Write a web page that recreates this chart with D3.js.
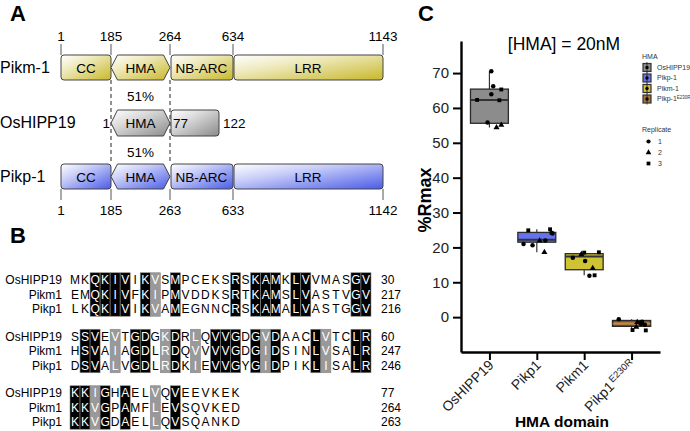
<!DOCTYPE html>
<html>
<head>
<meta charset="utf-8">
<script src="https://cdn.jsdelivr.net/npm/d3@7"></script>
<style>
  body { margin: 0; background: #fff; }
  svg { display: block; font-family: "Liberation Sans", Arial, sans-serif; }
</style>
</head>
<body>
<script>
const WIDTH = 690;
const HEIGHT = 431;

// ---------- panel A: domain schematic
const domainNames = ["CC", "HMA", "NB-ARC", "LRR"];
const pikmBounds = [1, 185, 264, 634, 1143];
const pikpBounds = [1, 185, 263, 633, 1142];
const hippBounds = [1, 77, 122];
const identityLabels = ["51%", "51%"];

// ---------- panel B: alignment
const seqNames = ["OsHIPP19", "Pikm1", "Pikp1"];
const seqBlocks = [
  ["MKQKIVIKVSMPCEKSRSKAMKLVVMASGV", "EMQKIVFKIPMVDDKSRTKAMSLVASTVGV", "LKQKIVIKVAMEGNNCRSKAMALVASTGGV"],
  ["SSVEVTGDGKDRLQVVGDGVDAACLVTCLR", "HSVAIAGDLRDQVVVVGDGIDSINLVSALR", "DSVALVGDLRDKIEVVGYGIDPIKLISALR"],
  ["KKIGHAELVQVEEVKEK", "KKVGPAMFLEVSQVKED", "KKVGDAELLQVSQANKD"]
];
const blockEnds = [[30, 217, 216], [60, 247, 246], [77, 264, 263]];
// b = identical (black), g = similar (grey), . = none
const blockMasks = [
  "..bbbb.bg.b.....b.bbb.bb....bb",
  ".bb.g.bb.gb.g.bbb.bgb...bg..bb",
  "bbgb.b..g.b......"
];

// ---------- panel C: boxplot
const hmaGroups = ["OsHIPP19", "Pikp1", "Pikm1", "Pikp1E230R"];
const boxLow = [54.4, 18.6, 12.0, -3.8];
const boxQ1 = [55.6, 21.5, 13.6, -2.6];
const boxMedian = [62.3, 22.2, 17.4, -1.9];
const boxQ3 = [65.4, 24.3, 18.2, -1.0];
const boxHigh = [70.5, 25.2, 18.6, -0.6];
const pointValues = [
  [70.5, 66.2, 63.9, 65.3, 62.3, 62.2, 55.8, 54.4, 55.1],
  [24.9, 25.2, 24.2, 21.0, 20.6, 22.0, 21.9, 18.6, 24.0],
  [17.0, 18.0, 18.5, 16.1, 18.6, 14.0, 11.9, 12.0],
  [-0.6, -1.3, -1.6, -3.7, -2.8, -2.2, -3.8, -1.5, -2.0]
];
const pointReplicate = [
  [1, 1, 1, 3, 3, 3, 1, 2, 2],
  [3, 3, 3, 1, 1, 1, 2, 2, 1],
  [1, 2, 3, 1, 3, 2, 1, 3],
  [1, 1, 1, 3, 2, 1, 3, 2, 1]
];
const pointJitter = [
  [0.04, 0.08, 0.04, 0.25, -0.26, 0.21, -0.04, 0.15, 0.25],
  [-0.18, 0.28, 0.31, -0.28, -0.09, 0.18, 0.06, 0.16, 0.33],
  [-0.24, -0.06, 0.0, 0.02, 0.31, 0.18, 0.11, 0.22],
  [-0.27, 0.22, 0.18, 0.02, 0.1, 0.28, 0.3, 0.12, 0.2]
];
const groupColors = ["#8c8c8c", "#6673f0", "#cfc233", "#a8743e"];
const legendNames = ["OsHIPP19", "Pikp-1", "Pikm-1", "Pikp-1"];
const replicates = [1, 2, 3];
const yTicks = [0, 10, 20, 30, 40, 50, 60, 70];

const svg = d3.select("body").append("svg")
  .attr("width", WIDTH)
  .attr("height", HEIGHT);

const defs = svg.append("defs");
function gradient(id, color) {
  const g = defs.append("linearGradient").attr("id", id)
    .attr("x1", 0).attr("y1", 0).attr("x2", 1).attr("y2", 1);
  g.append("stop").attr("offset", 0).attr("stop-color", "#ffffff");
  g.append("stop").attr("offset", 0.35).attr("stop-color", d3.interpolateRgb("#ffffff", color)(0.3));
  g.append("stop").attr("offset", 1).attr("stop-color", color);
}
gradient("gYel", "#c8b82a");
gradient("gBlue", "#4a5ce8");
gradient("gGrey", "#8a8a8a");

// panel letters
[["A", 10, 21], ["B", 10, 243], ["C", 418, 21]].forEach(function (l) {
  svg.append("text").attr("x", l[1]).attr("y", l[2])
    .attr("font-size", 22).attr("font-weight", "bold").text(l[0]);
});

// ================= PANEL A =================
const A = svg.append("g");
const pikmX = d3.scaleLinear().domain(pikmBounds).range([61, 111, 170, 233, 383]);
const pikpX = d3.scaleLinear().domain(pikpBounds).range([61, 111, 170, 233, 383]);
const hippX = d3.scaleLinear().domain(hippBounds).range([111, 170, 219]);

function hexPath(x0, x1, y0, y1) {
  const t = 6.5, ym = (y0 + y1) / 2;
  return `M${x0},${ym}L${x0 + t},${y0}L${x1 - t},${y0}L${x1},${ym}L${x1 - t},${y1}L${x0 + t},${y1}Z`;
}

// dashed guides
[185, 264].forEach(function (b) {
  A.append("line").attr("x1", pikmX(b)).attr("x2", pikmX(b))
    .attr("y1", 80).attr("y2", 164)
    .attr("stroke", "#222").attr("stroke-width", 1).attr("stroke-dasharray", "4,3");
});

function proteinRow(name, bounds, xs, y0, fill, tickDir) {
  const y1 = y0 + 25;
  A.append("text").attr("x", 0).attr("y", y0 + 18).attr("font-size", 16).text(name);
  bounds.forEach(function (b) {
    const x = xs(b);
    const ty0 = tickDir < 0 ? y0 - 11 : y1;
    A.append("line").attr("x1", x).attr("x2", x).attr("y1", ty0).attr("y2", ty0 + 11)
      .attr("stroke", "#555").attr("stroke-width", 1);
    A.append("text").attr("x", x).attr("y", tickDir < 0 ? y0 - 14 : y1 + 26)
      .attr("text-anchor", "middle").attr("font-size", 13.5).text(b);
  });
  domainNames.forEach(function (d, i) {
    const x0 = xs(bounds[i]), x1 = xs(bounds[i + 1]);
    if (d === "HMA") {
      A.append("path").attr("d", hexPath(x0, x1, y0, y1))
        .attr("fill", `url(#${fill})`).attr("stroke", "#444");
    } else {
      A.append("rect").attr("x", x0 + (i > 1 ? 1 : 0)).attr("y", y0)
        .attr("width", x1 - x0 - (i > 1 ? 1 : 0)).attr("height", 25).attr("rx", 3)
        .attr("fill", `url(#${fill})`).attr("stroke", "#444");
    }
    A.append("text").attr("x", (x0 + x1) / 2).attr("y", y0 + 17.5)
      .attr("text-anchor", "middle").attr("font-size", 13.5).text(d);
  });
}
proteinRow("Pikm-1", pikmBounds, pikmX, 55, "gYel", -1);
proteinRow("Pikp-1", pikpBounds, pikpX, 164, "gBlue", 1);

// OsHIPP19 row
const hy0 = 110, hy1 = 136;
A.append("text").attr("x", 0).attr("y", hy0 + 18).attr("font-size", 16).text("OsHIPP19");
A.append("path").attr("d", hexPath(hippX(1), hippX(77), hy0, hy1))
  .attr("fill", "url(#gGrey)").attr("stroke", "#444");
A.append("rect").attr("x", hippX(77) + 1).attr("y", hy0).attr("width", hippX(122) - hippX(77) - 1)
  .attr("height", hy1 - hy0).attr("rx", 3).attr("fill", "url(#gGrey)").attr("stroke", "#444");
A.append("text").attr("x", (hippX(1) + hippX(77)) / 2).attr("y", hy0 + 18)
  .attr("text-anchor", "middle").attr("font-size", 13.5).text("HMA");
A.append("text").attr("x", hippX(1) - 1).attr("y", hy0 + 18)
  .attr("text-anchor", "end").attr("font-size", 13.5).text(hippBounds[0]);
A.append("text").attr("x", hippX(77) + 3).attr("y", hy0 + 18)
  .attr("font-size", 13.5).text(hippBounds[1]);
A.append("text").attr("x", hippX(122) + 4).attr("y", hy0 + 18)
  .attr("font-size", 13.5).text(hippBounds[2]);
identityLabels.forEach(function (t, i) {
  A.append("text").attr("x", (pikmX(185) + pikmX(264)) / 2).attr("y", i === 0 ? 101 : 157)
    .attr("text-anchor", "middle").attr("font-size", 13.5).text(t);
});

// ================= PANEL B =================
const B = svg.append("g");
const colX = d3.scaleBand().domain(d3.range(30)).range([70, 371]);
const rowStep = 14.5, blockStep = 56.5, firstRow = 280;
seqBlocks.forEach(function (seqs, bi) {
  const mask = blockMasks[bi];
  const by = firstRow + bi * blockStep;
  // shading spans all three rows
  mask.split("").forEach(function (m, ci) {
    if (m === ".") return;
    B.append("rect").attr("x", colX(ci)).attr("y", by - rowStep / 2)
      .attr("width", colX.bandwidth()).attr("height", rowStep * 3)
      .attr("fill", m === "b" ? "#000" : "#999").attr("stroke", "#888").attr("stroke-width", 0.6);
  });
  seqs.forEach(function (s, ri) {
    const cy = by + ri * rowStep;
    B.append("text").attr("x", 62).attr("y", cy).attr("dy", "0.36em")
      .attr("text-anchor", "end").attr("font-size", 12).text(seqNames[ri]);
    s.split("").forEach(function (ch, ci) {
      B.append("text").attr("x", colX(ci) + colX.bandwidth() / 2).attr("y", cy).attr("dy", "0.36em")
        .attr("text-anchor", "middle").attr("font-size", 12)
        .attr("fill", mask[ci] === "." ? "#000" : "#fff").text(ch);
    });
    B.append("text").attr("x", 381).attr("y", cy).attr("dy", "0.36em")
      .attr("font-size", 12).text(blockEnds[bi][ri]);
  });
});

// ================= PANEL C =================
const C = svg.append("g");
const yScale = d3.scaleLinear().domain([-10, 79.2]).range([352, 41]);
const xScale = d3.scalePoint().domain(hmaGroups).range([461, 660]).padding(0.6);
const boxW = xScale.step() * 0.8;

C.append("text").attr("x", 564).attr("y", 50).attr("text-anchor", "middle")
  .attr("font-size", 17.5).text("[HMA] = 20nM");

// boxes
hmaGroups.forEach(function (g, i) {
  const cx = xScale(g);
  C.append("line").attr("x1", cx).attr("x2", cx)
    .attr("y1", yScale(boxHigh[i])).attr("y2", yScale(boxLow[i]))
    .attr("stroke", "#333").attr("stroke-width", 1.2);
  C.append("rect").attr("x", cx - boxW / 2).attr("y", yScale(boxQ3[i]))
    .attr("width", boxW).attr("height", yScale(boxQ1[i]) - yScale(boxQ3[i]))
    .attr("fill", groupColors[i]).attr("stroke", "#2a2a2a").attr("stroke-width", i === 3 ? 1.6 : 1.3);
  C.append("line").attr("x1", cx - boxW / 2).attr("x2", cx + boxW / 2)
    .attr("y1", yScale(boxMedian[i])).attr("y2", yScale(boxMedian[i]))
    .attr("stroke", i === 3 ? "#c98f4f" : "#333").attr("stroke-width", i === 3 ? 1.2 : 2);
});

// points
const shapeOf = d3.scaleOrdinal().domain(replicates)
  .range([d3.symbolCircle, d3.symbolTriangle, d3.symbolSquare]);
const sizeOf = d3.scaleOrdinal().domain(replicates).range([16, 16, 15]);
hmaGroups.forEach(function (g, i) {
  pointValues[i].forEach(function (v, j) {
    const r = pointReplicate[i][j];
    C.append("path")
      .attr("d", d3.symbol().type(shapeOf(r)).size(sizeOf(r))())
      .attr("transform", `translate(${xScale(g) + pointJitter[i][j] * xScale.step()},${yScale(v)})`)
      .attr("fill", "#000");
  });
});

// axes
const yAxis = C.append("g").attr("transform", "translate(461,0)")
  .call(d3.axisLeft(yScale).tickValues(yTicks).tickSize(8).tickSizeOuter(0).tickPadding(4));
const xAxis = C.append("g").attr("transform", "translate(0,352)")
  .call(d3.axisBottom(xScale).tickSize(8).tickSizeOuter(0).tickFormat(""));
[yAxis, xAxis].forEach(function (ax) {
  ax.select(".domain").attr("stroke", "#000").attr("stroke-width", 2.4);
  ax.selectAll(".tick line").attr("stroke", "#000").attr("stroke-width", 2);
});
yAxis.selectAll(".tick text").attr("font-size", 15).attr("fill", "#222")
  .attr("font-family", "'Liberation Sans', Arial, sans-serif");

// rotated category labels
hmaGroups.forEach(function (g) {
  const t = C.append("text")
    .attr("transform", `translate(${xScale(g) + 5},${366}) rotate(-45)`)
    .attr("text-anchor", "end").attr("font-size", 14).attr("fill", "#222");
  if (g === "Pikp1E230R") {
    t.append("tspan").text("Pikp1");
    t.append("tspan").attr("font-size", 9.5).attr("dy", -5).attr("dx", 1.5).text("E230R");
  } else {
    t.text(g);
  }
});

C.append("text").attr("x", 562).attr("y", 427).attr("text-anchor", "middle")
  .attr("font-size", 15.5).attr("font-weight", "bold").text("HMA domain");
C.append("text").attr("transform", "translate(431,200) rotate(-90)")
  .attr("text-anchor", "middle").attr("font-size", 18).attr("font-weight", "bold").text("%Rmax");

// legend
const L = C.append("g");
L.append("text").attr("x", 642).attr("y", 58.5).attr("font-size", 7).attr("fill", "#333").text("HMA");
const legY = d3.scalePoint().domain(hmaGroups).range([67.5, 99]);
hmaGroups.forEach(function (g, i) {
  const y = legY(g);
  L.append("rect").attr("x", 643).attr("y", y - 4).attr("width", 8).attr("height", 8)
    .attr("fill", groupColors[i]).attr("stroke", "#333").attr("stroke-width", 1.2);
  L.append("line").attr("x1", 647).attr("x2", 647).attr("y1", y - 5.5).attr("y2", y + 5.5)
    .attr("stroke", "#222").attr("stroke-width", 0.8);
  L.append("circle").attr("cx", 647).attr("cy", y).attr("r", 1.7).attr("fill", "#000");
  const t = L.append("text").attr("x", 657).attr("y", y + 2.4).attr("font-size", 7).attr("fill", "#333");
  t.append("tspan").text(legendNames[i]);
  if (i === 3) t.append("tspan").attr("font-size", 4.5).attr("dy", -2.5).text("E230R");
});
L.append("text").attr("x", 642).attr("y", 131.5).attr("font-size", 7).attr("fill", "#333").text("Replicate");
const repY = d3.scalePoint().domain(replicates).range([141.5, 163.5]);
replicates.forEach(function (r) {
  L.append("path").attr("d", d3.symbol().type(shapeOf(r)).size(14)())
    .attr("transform", `translate(648.5,${repY(r)})`).attr("fill", "#000");
  L.append("text").attr("x", 658).attr("y", repY(r) + 2.4).attr("font-size", 7).attr("fill", "#333").text(r);
});
</script>
</body>
</html>
